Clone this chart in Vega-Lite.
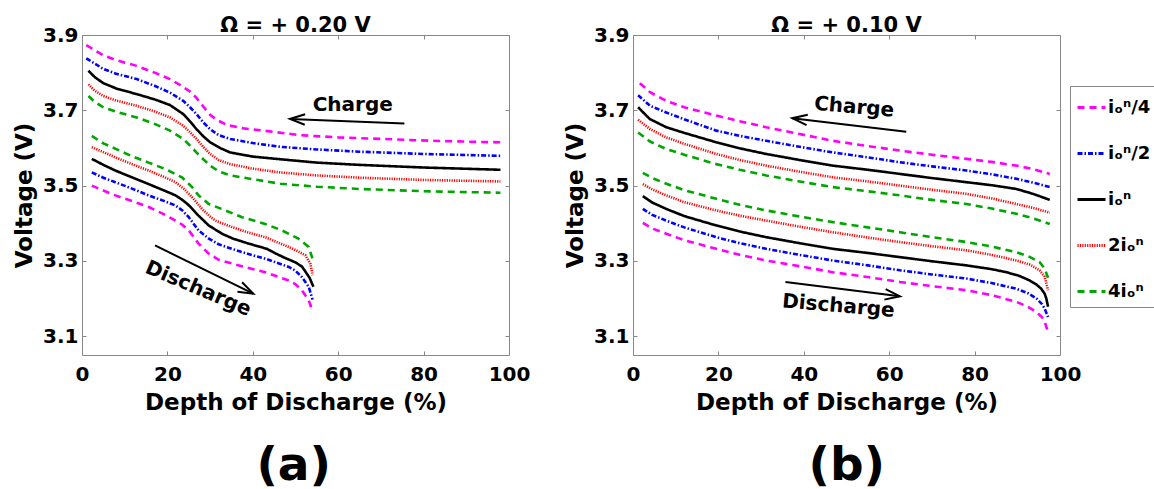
{
"$schema": "https://vega.github.io/schema/vega-lite/v6.json",
"padding": {"left": 13, "top": 14, "right": 0, "bottom": 0},
"background": "white",
"datasets": {
"curves": [
{"p":"a","s":"i/4","d":"c","x":1.0,"y":3.873},{"p":"a","s":"i/4","d":"c","x":5,"y":3.846},{"p":"a","s":"i/4","d":"c","x":8,"y":3.833},{"p":"a","s":"i/4","d":"c","x":12.8,"y":3.818},{"p":"a","s":"i/4","d":"c","x":17,"y":3.8},{"p":"a","s":"i/4","d":"c","x":20.6,"y":3.783},{"p":"a","s":"i/4","d":"c","x":23,"y":3.767},{"p":"a","s":"i/4","d":"c","x":25.3,"y":3.75},{"p":"a","s":"i/4","d":"c","x":26.8,"y":3.733},{"p":"a","s":"i/4","d":"c","x":28.4,"y":3.71},{"p":"a","s":"i/4","d":"c","x":30,"y":3.688},{"p":"a","s":"i/4","d":"c","x":31.5,"y":3.675},{"p":"a","s":"i/4","d":"c","x":33.9,"y":3.661},{"p":"a","s":"i/4","d":"c","x":37.8,"y":3.652},{"p":"a","s":"i/4","d":"c","x":44,"y":3.644},{"p":"a","s":"i/4","d":"c","x":51,"y":3.634},{"p":"a","s":"i/4","d":"c","x":60,"y":3.628},{"p":"a","s":"i/4","d":"c","x":70,"y":3.624},{"p":"a","s":"i/4","d":"c","x":82,"y":3.619},{"p":"a","s":"i/4","d":"c","x":93,"y":3.616},{"p":"a","s":"i/4","d":"c","x":98,"y":3.615},
{"p":"a","s":"i/2","d":"c","x":1.0,"y":3.838},{"p":"a","s":"i/2","d":"c","x":5,"y":3.81},{"p":"a","s":"i/2","d":"c","x":8,"y":3.797},{"p":"a","s":"i/2","d":"c","x":12.8,"y":3.783},{"p":"a","s":"i/2","d":"c","x":17,"y":3.765},{"p":"a","s":"i/2","d":"c","x":20.6,"y":3.747},{"p":"a","s":"i/2","d":"c","x":23.7,"y":3.725},{"p":"a","s":"i/2","d":"c","x":25.3,"y":3.708},{"p":"a","s":"i/2","d":"c","x":26.8,"y":3.69},{"p":"a","s":"i/2","d":"c","x":28.4,"y":3.668},{"p":"a","s":"i/2","d":"c","x":30,"y":3.65},{"p":"a","s":"i/2","d":"c","x":32,"y":3.634},{"p":"a","s":"i/2","d":"c","x":34.7,"y":3.624},{"p":"a","s":"i/2","d":"c","x":40,"y":3.613},{"p":"a","s":"i/2","d":"c","x":46.4,"y":3.603},{"p":"a","s":"i/2","d":"c","x":55,"y":3.596},{"p":"a","s":"i/2","d":"c","x":65,"y":3.59},{"p":"a","s":"i/2","d":"c","x":80,"y":3.584},{"p":"a","s":"i/2","d":"c","x":98,"y":3.579},
{"p":"a","s":"i","d":"c","x":1.5,"y":3.805},{"p":"a","s":"i","d":"c","x":3,"y":3.788},{"p":"a","s":"i","d":"c","x":5,"y":3.772},{"p":"a","s":"i","d":"c","x":8,"y":3.758},{"p":"a","s":"i","d":"c","x":12.8,"y":3.743},{"p":"a","s":"i","d":"c","x":17,"y":3.729},{"p":"a","s":"i","d":"c","x":20.6,"y":3.714},{"p":"a","s":"i","d":"c","x":23.7,"y":3.69},{"p":"a","s":"i","d":"c","x":25.5,"y":3.668},{"p":"a","s":"i","d":"c","x":26.8,"y":3.65},{"p":"a","s":"i","d":"c","x":28.5,"y":3.63},{"p":"a","s":"i","d":"c","x":30,"y":3.615},{"p":"a","s":"i","d":"c","x":32.5,"y":3.599},{"p":"a","s":"i","d":"c","x":34.7,"y":3.588},{"p":"a","s":"i","d":"c","x":40,"y":3.577},{"p":"a","s":"i","d":"c","x":46.4,"y":3.57},{"p":"a","s":"i","d":"c","x":55,"y":3.561},{"p":"a","s":"i","d":"c","x":65,"y":3.555},{"p":"a","s":"i","d":"c","x":80,"y":3.548},{"p":"a","s":"i","d":"c","x":98,"y":3.542},
{"p":"a","s":"2i","d":"c","x":1.5,"y":3.769},{"p":"a","s":"2i","d":"c","x":3,"y":3.752},{"p":"a","s":"2i","d":"c","x":5,"y":3.738},{"p":"a","s":"2i","d":"c","x":8,"y":3.726},{"p":"a","s":"2i","d":"c","x":12.8,"y":3.712},{"p":"a","s":"2i","d":"c","x":17,"y":3.697},{"p":"a","s":"2i","d":"c","x":20.6,"y":3.681},{"p":"a","s":"2i","d":"c","x":23.7,"y":3.659},{"p":"a","s":"2i","d":"c","x":25.3,"y":3.642},{"p":"a","s":"2i","d":"c","x":26.8,"y":3.624},{"p":"a","s":"2i","d":"c","x":28.4,"y":3.603},{"p":"a","s":"2i","d":"c","x":30,"y":3.584},{"p":"a","s":"2i","d":"c","x":32,"y":3.568},{"p":"a","s":"2i","d":"c","x":34.7,"y":3.557},{"p":"a","s":"2i","d":"c","x":40,"y":3.545},{"p":"a","s":"2i","d":"c","x":46.4,"y":3.535},{"p":"a","s":"2i","d":"c","x":55,"y":3.527},{"p":"a","s":"2i","d":"c","x":65,"y":3.521},{"p":"a","s":"2i","d":"c","x":80,"y":3.515},{"p":"a","s":"2i","d":"c","x":98,"y":3.511},
{"p":"a","s":"4i","d":"c","x":1.5,"y":3.738},{"p":"a","s":"4i","d":"c","x":3,"y":3.722},{"p":"a","s":"4i","d":"c","x":5,"y":3.708},{"p":"a","s":"4i","d":"c","x":8,"y":3.696},{"p":"a","s":"4i","d":"c","x":12.8,"y":3.681},{"p":"a","s":"4i","d":"c","x":17,"y":3.664},{"p":"a","s":"4i","d":"c","x":20.6,"y":3.646},{"p":"a","s":"4i","d":"c","x":23.7,"y":3.624},{"p":"a","s":"4i","d":"c","x":25.3,"y":3.606},{"p":"a","s":"4i","d":"c","x":26.8,"y":3.588},{"p":"a","s":"4i","d":"c","x":28.4,"y":3.57},{"p":"a","s":"4i","d":"c","x":30,"y":3.553},{"p":"a","s":"4i","d":"c","x":32,"y":3.538},{"p":"a","s":"4i","d":"c","x":34.7,"y":3.527},{"p":"a","s":"4i","d":"c","x":40,"y":3.517},{"p":"a","s":"4i","d":"c","x":46.4,"y":3.505},{"p":"a","s":"4i","d":"c","x":55,"y":3.497},{"p":"a","s":"4i","d":"c","x":65,"y":3.491},{"p":"a","s":"4i","d":"c","x":80,"y":3.485},{"p":"a","s":"4i","d":"c","x":98,"y":3.481},
{"p":"a","s":"4i","d":"d","x":2.3,"y":3.632},{"p":"a","s":"4i","d":"d","x":5,"y":3.612},{"p":"a","s":"4i","d":"d","x":8,"y":3.597},{"p":"a","s":"4i","d":"d","x":11.7,"y":3.578},{"p":"a","s":"4i","d":"d","x":15.6,"y":3.561},{"p":"a","s":"4i","d":"d","x":19.5,"y":3.544},{"p":"a","s":"4i","d":"d","x":23.4,"y":3.522},{"p":"a","s":"4i","d":"d","x":25.8,"y":3.496},{"p":"a","s":"4i","d":"d","x":27.3,"y":3.474},{"p":"a","s":"4i","d":"d","x":29.7,"y":3.451},{"p":"a","s":"4i","d":"d","x":33.6,"y":3.434},{"p":"a","s":"4i","d":"d","x":37.5,"y":3.416},{"p":"a","s":"4i","d":"d","x":42.9,"y":3.398},{"p":"a","s":"4i","d":"d","x":46.8,"y":3.381},{"p":"a","s":"4i","d":"d","x":50.7,"y":3.359},{"p":"a","s":"4i","d":"d","x":53.1,"y":3.337},{"p":"a","s":"4i","d":"d","x":54.0,"y":3.305},
{"p":"a","s":"2i","d":"d","x":2.3,"y":3.602},{"p":"a","s":"2i","d":"d","x":5,"y":3.589},{"p":"a","s":"2i","d":"d","x":7.8,"y":3.575},{"p":"a","s":"2i","d":"d","x":11.7,"y":3.557},{"p":"a","s":"2i","d":"d","x":15.6,"y":3.54},{"p":"a","s":"2i","d":"d","x":19,"y":3.524},{"p":"a","s":"2i","d":"d","x":21.9,"y":3.509},{"p":"a","s":"2i","d":"d","x":24,"y":3.49},{"p":"a","s":"2i","d":"d","x":25.8,"y":3.469},{"p":"a","s":"2i","d":"d","x":28.1,"y":3.438},{"p":"a","s":"2i","d":"d","x":30,"y":3.418},{"p":"a","s":"2i","d":"d","x":31.2,"y":3.407},{"p":"a","s":"2i","d":"d","x":35.1,"y":3.39},{"p":"a","s":"2i","d":"d","x":39,"y":3.375},{"p":"a","s":"2i","d":"d","x":42.9,"y":3.363},{"p":"a","s":"2i","d":"d","x":48.4,"y":3.337},{"p":"a","s":"2i","d":"d","x":50.5,"y":3.326},{"p":"a","s":"2i","d":"d","x":52.3,"y":3.315},{"p":"a","s":"2i","d":"d","x":53.5,"y":3.292},{"p":"a","s":"2i","d":"d","x":54.0,"y":3.262},
{"p":"a","s":"i","d":"d","x":2.3,"y":3.571},{"p":"a","s":"i","d":"d","x":5,"y":3.555},{"p":"a","s":"i","d":"d","x":7.8,"y":3.54},{"p":"a","s":"i","d":"d","x":11.7,"y":3.522},{"p":"a","s":"i","d":"d","x":15.6,"y":3.504},{"p":"a","s":"i","d":"d","x":19,"y":3.488},{"p":"a","s":"i","d":"d","x":21.9,"y":3.474},{"p":"a","s":"i","d":"d","x":23.5,"y":3.462},{"p":"a","s":"i","d":"d","x":25,"y":3.448},{"p":"a","s":"i","d":"d","x":27.3,"y":3.42},{"p":"a","s":"i","d":"d","x":29.7,"y":3.394},{"p":"a","s":"i","d":"d","x":32.8,"y":3.372},{"p":"a","s":"i","d":"d","x":35.4,"y":3.359},{"p":"a","s":"i","d":"d","x":39,"y":3.346},{"p":"a","s":"i","d":"d","x":43.3,"y":3.332},{"p":"a","s":"i","d":"d","x":45.3,"y":3.32},{"p":"a","s":"i","d":"d","x":47.5,"y":3.308},{"p":"a","s":"i","d":"d","x":50,"y":3.296},{"p":"a","s":"i","d":"d","x":51.5,"y":3.285},{"p":"a","s":"i","d":"d","x":52.3,"y":3.272},{"p":"a","s":"i","d":"d","x":53.3,"y":3.255},{"p":"a","s":"i","d":"d","x":54.2,"y":3.231},
{"p":"a","s":"i/2","d":"d","x":2.3,"y":3.535},{"p":"a","s":"i/2","d":"d","x":5,"y":3.521},{"p":"a","s":"i/2","d":"d","x":7.8,"y":3.509},{"p":"a","s":"i/2","d":"d","x":11.7,"y":3.492},{"p":"a","s":"i/2","d":"d","x":15.6,"y":3.474},{"p":"a","s":"i/2","d":"d","x":19,"y":3.46},{"p":"a","s":"i/2","d":"d","x":21.9,"y":3.447},{"p":"a","s":"i/2","d":"d","x":23.5,"y":3.434},{"p":"a","s":"i/2","d":"d","x":25,"y":3.416},{"p":"a","s":"i/2","d":"d","x":27.3,"y":3.381},{"p":"a","s":"i/2","d":"d","x":29.7,"y":3.359},{"p":"a","s":"i/2","d":"d","x":32,"y":3.344},{"p":"a","s":"i/2","d":"d","x":35.1,"y":3.332},{"p":"a","s":"i/2","d":"d","x":39,"y":3.318},{"p":"a","s":"i/2","d":"d","x":42.9,"y":3.306},{"p":"a","s":"i/2","d":"d","x":48.4,"y":3.284},{"p":"a","s":"i/2","d":"d","x":50,"y":3.274},{"p":"a","s":"i/2","d":"d","x":51.5,"y":3.257},{"p":"a","s":"i/2","d":"d","x":53.1,"y":3.231},{"p":"a","s":"i/2","d":"d","x":54.0,"y":3.197},
{"p":"a","s":"i/4","d":"d","x":2.3,"y":3.5},{"p":"a","s":"i/4","d":"d","x":5,"y":3.487},{"p":"a","s":"i/4","d":"d","x":7.8,"y":3.474},{"p":"a","s":"i/4","d":"d","x":11.7,"y":3.459},{"p":"a","s":"i/4","d":"d","x":15.6,"y":3.443},{"p":"a","s":"i/4","d":"d","x":19,"y":3.425},{"p":"a","s":"i/4","d":"d","x":21.9,"y":3.407},{"p":"a","s":"i/4","d":"d","x":23.5,"y":3.396},{"p":"a","s":"i/4","d":"d","x":25,"y":3.381},{"p":"a","s":"i/4","d":"d","x":27.3,"y":3.346},{"p":"a","s":"i/4","d":"d","x":29.7,"y":3.319},{"p":"a","s":"i/4","d":"d","x":32,"y":3.303},{"p":"a","s":"i/4","d":"d","x":35.1,"y":3.293},{"p":"a","s":"i/4","d":"d","x":39,"y":3.281},{"p":"a","s":"i/4","d":"d","x":42.9,"y":3.27},{"p":"a","s":"i/4","d":"d","x":48.4,"y":3.248},{"p":"a","s":"i/4","d":"d","x":50,"y":3.238},{"p":"a","s":"i/4","d":"d","x":51.5,"y":3.222},{"p":"a","s":"i/4","d":"d","x":53.1,"y":3.195},{"p":"a","s":"i/4","d":"d","x":53.9,"y":3.169},
{"p":"b","s":"i/4","d":"c","x":1.6,"y":3.772},{"p":"b","s":"i/4","d":"c","x":4,"y":3.748},{"p":"b","s":"i/4","d":"c","x":7.8,"y":3.725},{"p":"b","s":"i/4","d":"c","x":12,"y":3.708},{"p":"b","s":"i/4","d":"c","x":19.5,"y":3.686},{"p":"b","s":"i/4","d":"c","x":25,"y":3.671},{"p":"b","s":"i/4","d":"c","x":31.2,"y":3.655},{"p":"b","s":"i/4","d":"c","x":39,"y":3.637},{"p":"b","s":"i/4","d":"c","x":46.8,"y":3.619},{"p":"b","s":"i/4","d":"c","x":55,"y":3.605},{"p":"b","s":"i/4","d":"c","x":62.5,"y":3.593},{"p":"b","s":"i/4","d":"c","x":70,"y":3.582},{"p":"b","s":"i/4","d":"c","x":78.1,"y":3.571},{"p":"b","s":"i/4","d":"c","x":84,"y":3.563},{"p":"b","s":"i/4","d":"c","x":89.8,"y":3.553},{"p":"b","s":"i/4","d":"c","x":94,"y":3.543},{"p":"b","s":"i/4","d":"c","x":97.6,"y":3.531},
{"p":"b","s":"i/2","d":"c","x":1.2,"y":3.74},{"p":"b","s":"i/2","d":"c","x":4,"y":3.712},{"p":"b","s":"i/2","d":"c","x":7.8,"y":3.694},{"p":"b","s":"i/2","d":"c","x":12,"y":3.676},{"p":"b","s":"i/2","d":"c","x":19.5,"y":3.646},{"p":"b","s":"i/2","d":"c","x":25,"y":3.632},{"p":"b","s":"i/2","d":"c","x":31.2,"y":3.619},{"p":"b","s":"i/2","d":"c","x":39,"y":3.603},{"p":"b","s":"i/2","d":"c","x":46.8,"y":3.588},{"p":"b","s":"i/2","d":"c","x":55,"y":3.575},{"p":"b","s":"i/2","d":"c","x":62.5,"y":3.562},{"p":"b","s":"i/2","d":"c","x":70,"y":3.551},{"p":"b","s":"i/2","d":"c","x":78.1,"y":3.54},{"p":"b","s":"i/2","d":"c","x":84,"y":3.53},{"p":"b","s":"i/2","d":"c","x":89.8,"y":3.518},{"p":"b","s":"i/2","d":"c","x":94,"y":3.507},{"p":"b","s":"i/2","d":"c","x":97.6,"y":3.496},
{"p":"b","s":"i","d":"c","x":1.2,"y":3.708},{"p":"b","s":"i","d":"c","x":3.9,"y":3.677},{"p":"b","s":"i","d":"c","x":7.8,"y":3.655},{"p":"b","s":"i","d":"c","x":12,"y":3.64},{"p":"b","s":"i","d":"c","x":19.5,"y":3.615},{"p":"b","s":"i","d":"c","x":25,"y":3.599},{"p":"b","s":"i","d":"c","x":31.2,"y":3.584},{"p":"b","s":"i","d":"c","x":39,"y":3.568},{"p":"b","s":"i","d":"c","x":46.8,"y":3.553},{"p":"b","s":"i","d":"c","x":55,"y":3.542},{"p":"b","s":"i","d":"c","x":62.5,"y":3.531},{"p":"b","s":"i","d":"c","x":70,"y":3.52},{"p":"b","s":"i","d":"c","x":78.1,"y":3.509},{"p":"b","s":"i","d":"c","x":84,"y":3.501},{"p":"b","s":"i","d":"c","x":89.8,"y":3.491},{"p":"b","s":"i","d":"c","x":93.7,"y":3.478},{"p":"b","s":"i","d":"c","x":97.6,"y":3.462},
{"p":"b","s":"2i","d":"c","x":1.2,"y":3.675},{"p":"b","s":"2i","d":"c","x":4,"y":3.65},{"p":"b","s":"2i","d":"c","x":7.8,"y":3.628},{"p":"b","s":"2i","d":"c","x":12,"y":3.611},{"p":"b","s":"2i","d":"c","x":19.5,"y":3.584},{"p":"b","s":"2i","d":"c","x":25,"y":3.568},{"p":"b","s":"2i","d":"c","x":31.2,"y":3.553},{"p":"b","s":"2i","d":"c","x":39,"y":3.537},{"p":"b","s":"2i","d":"c","x":46.8,"y":3.522},{"p":"b","s":"2i","d":"c","x":55,"y":3.511},{"p":"b","s":"2i","d":"c","x":62.5,"y":3.5},{"p":"b","s":"2i","d":"c","x":70,"y":3.489},{"p":"b","s":"2i","d":"c","x":78.1,"y":3.478},{"p":"b","s":"2i","d":"c","x":84,"y":3.466},{"p":"b","s":"2i","d":"c","x":89.8,"y":3.451},{"p":"b","s":"2i","d":"c","x":94,"y":3.44},{"p":"b","s":"2i","d":"c","x":97.6,"y":3.428},
{"p":"b","s":"4i","d":"c","x":1.2,"y":3.641},{"p":"b","s":"4i","d":"c","x":4,"y":3.617},{"p":"b","s":"4i","d":"c","x":7.8,"y":3.597},{"p":"b","s":"4i","d":"c","x":12,"y":3.582},{"p":"b","s":"4i","d":"c","x":19.5,"y":3.557},{"p":"b","s":"4i","d":"c","x":25,"y":3.542},{"p":"b","s":"4i","d":"c","x":31.2,"y":3.527},{"p":"b","s":"4i","d":"c","x":39,"y":3.511},{"p":"b","s":"4i","d":"c","x":46.8,"y":3.496},{"p":"b","s":"4i","d":"c","x":55,"y":3.485},{"p":"b","s":"4i","d":"c","x":62.5,"y":3.474},{"p":"b","s":"4i","d":"c","x":70,"y":3.462},{"p":"b","s":"4i","d":"c","x":78.1,"y":3.451},{"p":"b","s":"4i","d":"c","x":84,"y":3.439},{"p":"b","s":"4i","d":"c","x":89.8,"y":3.425},{"p":"b","s":"4i","d":"c","x":94,"y":3.412},{"p":"b","s":"4i","d":"c","x":97.6,"y":3.398},
{"p":"b","s":"4i","d":"d","x":2.3,"y":3.534},{"p":"b","s":"4i","d":"d","x":4.5,"y":3.52},{"p":"b","s":"4i","d":"d","x":7.8,"y":3.505},{"p":"b","s":"4i","d":"d","x":12,"y":3.488},{"p":"b","s":"4i","d":"d","x":19.5,"y":3.465},{"p":"b","s":"4i","d":"d","x":25,"y":3.449},{"p":"b","s":"4i","d":"d","x":31.2,"y":3.434},{"p":"b","s":"4i","d":"d","x":39,"y":3.418},{"p":"b","s":"4i","d":"d","x":46.8,"y":3.403},{"p":"b","s":"4i","d":"d","x":55,"y":3.389},{"p":"b","s":"4i","d":"d","x":62.5,"y":3.376},{"p":"b","s":"4i","d":"d","x":70,"y":3.363},{"p":"b","s":"4i","d":"d","x":78.1,"y":3.35},{"p":"b","s":"4i","d":"d","x":84,"y":3.338},{"p":"b","s":"4i","d":"d","x":89.8,"y":3.323},{"p":"b","s":"4i","d":"d","x":93,"y":3.31},{"p":"b","s":"4i","d":"d","x":95.2,"y":3.297},{"p":"b","s":"4i","d":"d","x":96.4,"y":3.28},{"p":"b","s":"4i","d":"d","x":97.2,"y":3.255},
{"p":"b","s":"2i","d":"d","x":2.3,"y":3.504},{"p":"b","s":"2i","d":"d","x":4.5,"y":3.49},{"p":"b","s":"2i","d":"d","x":7.8,"y":3.474},{"p":"b","s":"2i","d":"d","x":12,"y":3.456},{"p":"b","s":"2i","d":"d","x":19.5,"y":3.434},{"p":"b","s":"2i","d":"d","x":25,"y":3.42},{"p":"b","s":"2i","d":"d","x":31.2,"y":3.407},{"p":"b","s":"2i","d":"d","x":39,"y":3.391},{"p":"b","s":"2i","d":"d","x":46.8,"y":3.376},{"p":"b","s":"2i","d":"d","x":55,"y":3.362},{"p":"b","s":"2i","d":"d","x":62.5,"y":3.35},{"p":"b","s":"2i","d":"d","x":70,"y":3.339},{"p":"b","s":"2i","d":"d","x":78.1,"y":3.328},{"p":"b","s":"2i","d":"d","x":84,"y":3.316},{"p":"b","s":"2i","d":"d","x":89.8,"y":3.301},{"p":"b","s":"2i","d":"d","x":93,"y":3.29},{"p":"b","s":"2i","d":"d","x":95.2,"y":3.275},{"p":"b","s":"2i","d":"d","x":96.4,"y":3.258},{"p":"b","s":"2i","d":"d","x":97.2,"y":3.222},
{"p":"b","s":"i","d":"d","x":2.3,"y":3.472},{"p":"b","s":"i","d":"d","x":4.5,"y":3.455},{"p":"b","s":"i","d":"d","x":7.8,"y":3.438},{"p":"b","s":"i","d":"d","x":12,"y":3.419},{"p":"b","s":"i","d":"d","x":19.5,"y":3.394},{"p":"b","s":"i","d":"d","x":25,"y":3.378},{"p":"b","s":"i","d":"d","x":31.2,"y":3.363},{"p":"b","s":"i","d":"d","x":39,"y":3.347},{"p":"b","s":"i","d":"d","x":46.8,"y":3.332},{"p":"b","s":"i","d":"d","x":55,"y":3.321},{"p":"b","s":"i","d":"d","x":62.5,"y":3.31},{"p":"b","s":"i","d":"d","x":70,"y":3.299},{"p":"b","s":"i","d":"d","x":78.1,"y":3.288},{"p":"b","s":"i","d":"d","x":84,"y":3.278},{"p":"b","s":"i","d":"d","x":87.4,"y":3.27},{"p":"b","s":"i","d":"d","x":90.5,"y":3.26},{"p":"b","s":"i","d":"d","x":92.9,"y":3.248},{"p":"b","s":"i","d":"d","x":94.5,"y":3.237},{"p":"b","s":"i","d":"d","x":95.6,"y":3.226},{"p":"b","s":"i","d":"d","x":96.4,"y":3.213},{"p":"b","s":"i","d":"d","x":96.8,"y":3.2},{"p":"b","s":"i","d":"d","x":97.2,"y":3.178},
{"p":"b","s":"i/2","d":"d","x":2.3,"y":3.438},{"p":"b","s":"i/2","d":"d","x":4.5,"y":3.422},{"p":"b","s":"i/2","d":"d","x":7.8,"y":3.407},{"p":"b","s":"i/2","d":"d","x":12,"y":3.389},{"p":"b","s":"i/2","d":"d","x":19.5,"y":3.363},{"p":"b","s":"i/2","d":"d","x":25,"y":3.347},{"p":"b","s":"i/2","d":"d","x":31.2,"y":3.332},{"p":"b","s":"i/2","d":"d","x":39,"y":3.316},{"p":"b","s":"i/2","d":"d","x":46.8,"y":3.301},{"p":"b","s":"i/2","d":"d","x":55,"y":3.288},{"p":"b","s":"i/2","d":"d","x":62.5,"y":3.275},{"p":"b","s":"i/2","d":"d","x":70,"y":3.264},{"p":"b","s":"i/2","d":"d","x":78.1,"y":3.253},{"p":"b","s":"i/2","d":"d","x":84,"y":3.241},{"p":"b","s":"i/2","d":"d","x":89.8,"y":3.226},{"p":"b","s":"i/2","d":"d","x":92.5,"y":3.214},{"p":"b","s":"i/2","d":"d","x":94.5,"y":3.2},{"p":"b","s":"i/2","d":"d","x":95.8,"y":3.185},{"p":"b","s":"i/2","d":"d","x":96.4,"y":3.173},{"p":"b","s":"i/2","d":"d","x":97.2,"y":3.151},
{"p":"b","s":"i/4","d":"d","x":2.3,"y":3.401},{"p":"b","s":"i/4","d":"d","x":4.5,"y":3.386},{"p":"b","s":"i/4","d":"d","x":7.8,"y":3.372},{"p":"b","s":"i/4","d":"d","x":12,"y":3.355},{"p":"b","s":"i/4","d":"d","x":19.5,"y":3.332},{"p":"b","s":"i/4","d":"d","x":25,"y":3.316},{"p":"b","s":"i/4","d":"d","x":31.2,"y":3.301},{"p":"b","s":"i/4","d":"d","x":39,"y":3.286},{"p":"b","s":"i/4","d":"d","x":46.8,"y":3.27},{"p":"b","s":"i/4","d":"d","x":55,"y":3.257},{"p":"b","s":"i/4","d":"d","x":62.5,"y":3.244},{"p":"b","s":"i/4","d":"d","x":70,"y":3.233},{"p":"b","s":"i/4","d":"d","x":78.1,"y":3.222},{"p":"b","s":"i/4","d":"d","x":84,"y":3.209},{"p":"b","s":"i/4","d":"d","x":89.8,"y":3.191},{"p":"b","s":"i/4","d":"d","x":92.5,"y":3.178},{"p":"b","s":"i/4","d":"d","x":94.5,"y":3.164},{"p":"b","s":"i/4","d":"d","x":95.8,"y":3.15},{"p":"b","s":"i/4","d":"d","x":96.4,"y":3.138},{"p":"b","s":"i/4","d":"d","x":97.2,"y":3.111}
],
"notes": [
{"p":"a","k":"c","t":"Charge","x":63.4,"y":3.714},
{"p":"a","k":"d","t":"Discharge","x":27.2,"y":3.226},
{"p":"b","k":"c","t":"Charge","x":51.8,"y":3.708},
{"p":"b","k":"d","t":"Discharge","x":48.1,"y":3.18}
],
"arrows": [
{"p":"a","k":"c","x":75.5,"y":3.665,"x2":48.7,"y2":3.677},
{"p":"a","k":"d","x":17.1,"y":3.341,"x2":40.1,"y2":3.213},
{"p":"b","k":"c","x":64.0,"y":3.643,"x2":37.3,"y2":3.679},
{"p":"b","k":"d","x":35.7,"y":3.244,"x2":62.5,"y2":3.206}
]
},
"spacing": 33,
"hconcat": [
{
"title": {"text": "(a)", "orient": "bottom", "anchor": "middle", "fontSize": 47, "offset": 28, "dx": 22},
"vconcat": [{
"title": {"text": "\u03a9 = + 0.20 V", "offset": -11, "anchor": "middle"},
"width": 427, "height": 320,
"resolve": {"axis": {"x": "independent", "y": "independent"}},
"layer": [
{"data": {"name": "curves"}, "transform": [{"filter": "datum.p == 'a'"}],
 "mark": {"type": "line", "strokeWidth": 2.6, "strokeCap": "butt"},
 "encoding": {
  "x": {"field": "x", "type": "quantitative", "scale": {"domain": [0, 100], "nice": false}, "axis": {"values": [0,20,40,60,80,100], "title": "Depth of Discharge (%)", "labelPadding": 13, "titlePadding": 7}},
  "y": {"field": "y", "type": "quantitative", "scale": {"domain": [3.05, 3.9], "nice": false, "zero": false}, "axis": {"values": [3.1,3.3,3.5,3.7,3.9], "format": ".1f", "title": "Voltage (V)", "labelPadding": 8, "titlePadding": 6}},
  "color": {"field": "s", "type": "nominal", "scale": {"domain": ["i/4","i/2","i","2i","4i"], "range": ["#ff00ff","#0000ff","#000000","#ff0000","#00a600"]}, "title": null, "legend": {"labelExpr": "datum.label == 'i/4' ? 'i\u2092\u207f/4' : datum.label == 'i/2' ? 'i\u2092\u207f/2' : datum.label == 'i' ? 'i\u2092\u207f' : datum.label == '2i' ? '2i\u2092\u207f' : '4i\u2092\u207f'"}},
  "strokeDash": {"field": "s", "type": "nominal", "scale": {"domain": ["i/4","i/2","i","2i","4i"], "range": [[7,5],[5,2,1.5,2],[1,0],[1.2,1.2],[7,5]]}, "title": null, "legend": {"labelExpr": "datum.label == 'i/4' ? 'i\u2092\u207f/4' : datum.label == 'i/2' ? 'i\u2092\u207f/2' : datum.label == 'i' ? 'i\u2092\u207f' : datum.label == '2i' ? '2i\u2092\u207f' : '4i\u2092\u207f'"}},
  "detail": {"field": "d", "type": "nominal"}
 }},
{"data": {"name": "arrows"}, "transform": [{"filter": "datum.p == 'a'"}],
 "mark": {"type": "rule", "strokeWidth": 2, "color": "#000"},
 "encoding": {
  "x": {"field": "x", "type": "quantitative", "axis": {"orient": "top", "values": [0,20,40,60,80,100], "labels": false, "title": null}},
  "y": {"field": "y", "type": "quantitative", "axis": {"orient": "right", "values": [3.1,3.3,3.5,3.7,3.9], "labels": false, "title": null}},
  "x2": {"field": "x2"}, "y2": {"field": "y2"}
 }},
{"data": {"name": "arrows"}, "transform": [{"filter": "datum.p == 'a' && datum.k == 'c'"}],
 "mark": {"type": "point", "shape": "M1,-0.35L0,0L1,0.35", "filled": false, "size": 900, "strokeWidth": 2, "color": "#000", "opacity": 1, "angle": 2.2},
 "encoding": {"x": {"field": "x2", "type": "quantitative", "axis": null}, "y": {"field": "y2", "type": "quantitative", "axis": null}}},
{"data": {"name": "arrows"}, "transform": [{"filter": "datum.p == 'a' && datum.k == 'd'"}],
 "mark": {"type": "point", "shape": "M-1,-0.35L0,0L-1,0.35", "filled": false, "size": 900, "strokeWidth": 2, "color": "#000", "opacity": 1, "angle": 26.2},
 "encoding": {"x": {"field": "x2", "type": "quantitative", "axis": null}, "y": {"field": "y2", "type": "quantitative", "axis": null}}},
{"data": {"name": "notes"}, "transform": [{"filter": "datum.p == 'a' && datum.k == 'c'"}],
 "mark": {"type": "text", "font": "DejaVu Sans", "fontSize": 20, "fontWeight": "bold", "color": "#000"},
 "encoding": {"x": {"field": "x", "type": "quantitative", "axis": null}, "y": {"field": "y", "type": "quantitative", "axis": null}, "text": {"field": "t"}}},
{"data": {"name": "notes"}, "transform": [{"filter": "datum.p == 'a' && datum.k == 'd'"}],
 "mark": {"type": "text", "font": "DejaVu Sans", "fontSize": 20, "fontWeight": "bold", "color": "#000", "angle": 23},
 "encoding": {"x": {"field": "x", "type": "quantitative", "axis": null}, "y": {"field": "y", "type": "quantitative", "axis": null}, "text": {"field": "t"}}}
]
}]
},
{
"title": {"text": "(b)", "orient": "bottom", "anchor": "middle", "fontSize": 47, "offset": 28, "dx": 24},
"vconcat": [{
"title": {"text": "\u03a9 = + 0.10 V", "offset": -11, "anchor": "middle"},
"width": 427, "height": 320,
"resolve": {"axis": {"x": "independent", "y": "independent"}},
"layer": [
{"data": {"name": "curves"}, "transform": [{"filter": "datum.p == 'b'"}],
 "mark": {"type": "line", "strokeWidth": 2.6, "strokeCap": "butt"},
 "encoding": {
  "x": {"field": "x", "type": "quantitative", "scale": {"domain": [0, 100], "nice": false}, "axis": {"values": [0,20,40,60,80,100], "title": "Depth of Discharge (%)", "labelPadding": 13, "titlePadding": 7}},
  "y": {"field": "y", "type": "quantitative", "scale": {"domain": [3.05, 3.9], "nice": false, "zero": false}, "axis": {"values": [3.1,3.3,3.5,3.7,3.9], "format": ".1f", "title": "Voltage (V)", "labelPadding": 8, "titlePadding": 6}},
  "color": {"field": "s", "type": "nominal", "scale": {"domain": ["i/4","i/2","i","2i","4i"], "range": ["#ff00ff","#0000ff","#000000","#ff0000","#00a600"]}, "title": null, "legend": {"labelExpr": "datum.label == 'i/4' ? 'i\u2092\u207f/4' : datum.label == 'i/2' ? 'i\u2092\u207f/2' : datum.label == 'i' ? 'i\u2092\u207f' : datum.label == '2i' ? '2i\u2092\u207f' : '4i\u2092\u207f'"}},
  "strokeDash": {"field": "s", "type": "nominal", "scale": {"domain": ["i/4","i/2","i","2i","4i"], "range": [[7,5],[5,2,1.5,2],[1,0],[1.2,1.2],[7,5]]}, "title": null, "legend": {"labelExpr": "datum.label == 'i/4' ? 'i\u2092\u207f/4' : datum.label == 'i/2' ? 'i\u2092\u207f/2' : datum.label == 'i' ? 'i\u2092\u207f' : datum.label == '2i' ? '2i\u2092\u207f' : '4i\u2092\u207f'"}},
  "detail": {"field": "d", "type": "nominal"}
 }},
{"data": {"name": "arrows"}, "transform": [{"filter": "datum.p == 'b'"}],
 "mark": {"type": "rule", "strokeWidth": 2, "color": "#000"},
 "encoding": {
  "x": {"field": "x", "type": "quantitative", "axis": {"orient": "top", "values": [0,20,40,60,80,100], "labels": false, "title": null}},
  "y": {"field": "y", "type": "quantitative", "axis": {"orient": "right", "values": [3.1,3.3,3.5,3.7,3.9], "labels": false, "title": null}},
  "x2": {"field": "x2"}, "y2": {"field": "y2"}
 }},
{"data": {"name": "arrows"}, "transform": [{"filter": "datum.p == 'b' && datum.k == 'c'"}],
 "mark": {"type": "point", "shape": "M1,-0.35L0,0L1,0.35", "filled": false, "size": 900, "strokeWidth": 2, "color": "#000", "opacity": 1, "angle": 6.7},
 "encoding": {"x": {"field": "x2", "type": "quantitative", "axis": null}, "y": {"field": "y2", "type": "quantitative", "axis": null}}},
{"data": {"name": "arrows"}, "transform": [{"filter": "datum.p == 'b' && datum.k == 'd'"}],
 "mark": {"type": "point", "shape": "M-1,-0.35L0,0L-1,0.35", "filled": false, "size": 900, "strokeWidth": 2, "color": "#000", "opacity": 1, "angle": 7.1},
 "encoding": {"x": {"field": "x2", "type": "quantitative", "axis": null}, "y": {"field": "y2", "type": "quantitative", "axis": null}}},
{"data": {"name": "notes"}, "transform": [{"filter": "datum.p == 'b' && datum.k == 'c'"}],
 "mark": {"type": "text", "font": "DejaVu Sans", "fontSize": 20, "fontWeight": "bold", "color": "#000", "angle": 5},
 "encoding": {"x": {"field": "x", "type": "quantitative", "axis": null}, "y": {"field": "y", "type": "quantitative", "axis": null}, "text": {"field": "t"}}},
{"data": {"name": "notes"}, "transform": [{"filter": "datum.p == 'b' && datum.k == 'd'"}],
 "mark": {"type": "text", "font": "DejaVu Sans", "fontSize": 20, "fontWeight": "bold", "color": "#000", "angle": 5},
 "encoding": {"x": {"field": "x", "type": "quantitative", "axis": null}, "y": {"field": "y", "type": "quantitative", "axis": null}, "text": {"field": "t"}}}
]
}]
}
],
"config": {
"font": "DejaVu Sans",
"view": {"stroke": "#888888", "strokeWidth": 1},
"axis": {"labelFont": "DejaVu Sans", "labelFontSize": 20, "labelFontWeight": "bold", "labelColor": "#000", "labelFlush": false, "titleFont": "DejaVu Sans", "titleFontSize": 23, "titleFontWeight": "bold", "titleColor": "#000", "grid": false, "domain": false, "tickColor": "#888888", "tickSize": -4, "tickWidth": 1},
"title": {"font": "DejaVu Sans", "fontSize": 21, "fontWeight": "bold", "color": "#000"},
"legend": {"orient": "none", "legendX": 988, "legendY": 51, "symbolType": "stroke", "symbolSize": 784, "symbolStrokeWidth": 3, "labelFont": "DejaVu Sans", "labelFontSize": 18, "labelFontWeight": "bold", "labelColor": "#000", "strokeColor": "#888888", "fillColor": "#fff", "padding": 6, "rowPadding": 21, "labelOffset": 1}
}
}
